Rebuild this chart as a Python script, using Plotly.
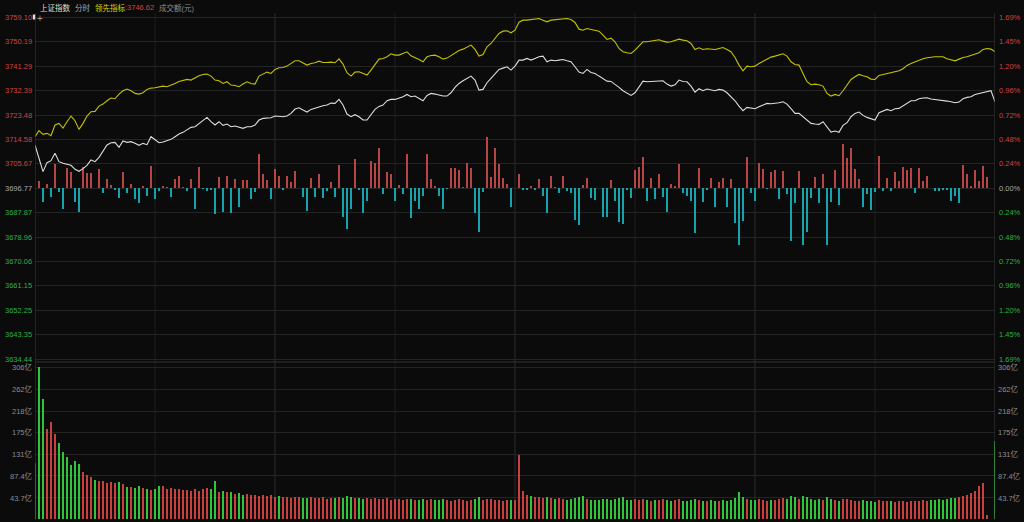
import plotly.graph_objects as go

prev_close = 3696.77
minutes = list(range(241))

price_ticks = [3759.10, 3750.19, 3741.29, 3732.39, 3723.48, 3714.58, 3705.67,
               3696.77, 3687.87, 3678.96, 3670.06, 3661.15, 3652.25, 3643.35, 3634.44]
pct_labels = ["1.69%", "1.45%", "1.20%", "0.96%", "0.72%", "0.48%", "0.24%", "0.00%",
              "0.24%", "0.48%", "0.72%", "0.96%", "1.20%", "1.45%", "1.69%"]
vol_ticks = [306, 262, 218, 175, 131, 87.4, 43.7]
vol_labels = ["306亿", "262亿", "218亿", "175亿", "131亿", "87.4亿", "43.7亿"]

index_price = [
    3712.57, 3707.71, 3702.85, 3706.13, 3706.85, 3709.53, 3706.49, 3705.88, 3705.52, 3705.15,
    3703.70, 3702.97, 3703.94, 3705.15, 3707.10, 3706.49, 3708.07, 3710.14, 3712.57, 3713.42,
    3713.54, 3711.71, 3714.02, 3713.54, 3713.78, 3713.17, 3712.44, 3713.17, 3712.69, 3715.60,
    3714.39, 3713.42, 3713.66, 3714.14, 3714.63, 3715.60, 3716.57, 3717.18, 3718.03, 3719.00,
    3719.25, 3720.46, 3721.68, 3722.65, 3721.07, 3719.86, 3721.07, 3719.73, 3720.22, 3719.25,
    3719.49, 3719.00, 3718.64, 3719.25, 3719.25, 3719.86, 3721.68, 3722.29, 3722.29, 3722.53,
    3723.14, 3722.89, 3722.89, 3723.14, 3724.11, 3725.69, 3726.17, 3725.32, 3724.59, 3725.57,
    3726.05, 3726.66, 3726.90, 3727.15, 3727.87, 3727.75, 3729.21, 3727.15, 3723.86, 3722.89,
    3723.62, 3722.89, 3721.68, 3721.68, 3723.50, 3725.57, 3726.66, 3727.15, 3728.72, 3729.21,
    3729.21, 3729.70, 3730.18, 3731.03, 3730.18, 3730.43, 3729.58, 3728.72, 3730.67, 3731.40,
    3731.15, 3730.79, 3730.43, 3730.43, 3731.64, 3733.58, 3735.04, 3736.01, 3736.87, 3737.72,
    3736.26, 3732.61, 3732.86, 3735.29, 3736.87, 3738.69, 3740.15, 3740.63, 3741.12, 3739.90,
    3741.36, 3743.55, 3743.55, 3744.16, 3743.55, 3744.16, 3744.76, 3745.01, 3742.94, 3743.55,
    3743.30, 3743.55, 3743.79, 3743.30, 3742.94, 3741.12, 3739.17, 3738.69, 3740.15, 3739.05,
    3738.69, 3737.72, 3736.74, 3735.89, 3735.77, 3734.80, 3733.58, 3732.37, 3731.40, 3730.67,
    3731.64, 3733.83, 3735.89, 3735.65, 3735.77, 3735.65, 3735.89, 3736.01, 3734.80, 3734.07,
    3734.56, 3736.26, 3735.77, 3735.65, 3734.07, 3731.88, 3733.10, 3732.37, 3732.98, 3732.61,
    3732.37, 3732.86, 3732.61, 3731.64, 3730.18, 3728.72, 3726.78, 3725.08, 3726.29, 3725.93,
    3725.81, 3726.54, 3727.27, 3727.75, 3727.63, 3727.75, 3728.00, 3728.36, 3727.51, 3725.81,
    3724.11, 3724.11, 3722.89, 3721.68, 3720.46, 3720.22, 3720.10, 3721.07, 3719.00, 3717.30,
    3717.67, 3717.18, 3719.73, 3720.71, 3722.89, 3724.11, 3724.59, 3723.38, 3722.65, 3722.16,
    3721.68, 3724.35, 3725.08, 3725.57, 3725.08, 3725.81, 3725.93, 3726.78, 3727.75, 3728.72,
    3728.72, 3729.45, 3729.70, 3729.82, 3729.33, 3729.21, 3728.97, 3728.72, 3728.60, 3728.36,
    3728.00, 3728.24, 3729.45, 3729.94, 3730.18, 3731.03, 3731.40, 3731.88, 3732.25, 3732.37,
    3728.36,
]

leading_index = [
    3715.60, 3717.79, 3716.45, 3716.82, 3715.97, 3719.86, 3720.46, 3718.76, 3721.07, 3723.14,
    3721.43, 3718.28, 3720.46, 3723.14, 3724.72, 3724.84, 3726.78, 3727.51, 3728.72, 3729.70,
    3729.45, 3731.15, 3732.37, 3732.98, 3732.37, 3731.40, 3731.15, 3731.64, 3732.86, 3733.34,
    3733.46, 3733.83, 3734.07, 3733.83, 3734.31, 3735.04, 3735.77, 3736.26, 3736.50, 3736.26,
    3737.11, 3737.84, 3738.32, 3738.44, 3737.72, 3736.26, 3736.01, 3735.04, 3735.65, 3734.44,
    3734.31, 3733.83, 3734.80, 3735.65, 3735.04, 3734.80, 3737.72, 3738.44, 3739.17, 3738.69,
    3740.15, 3740.75, 3740.87, 3741.36, 3742.33, 3743.30, 3743.30, 3742.58, 3741.73, 3742.33,
    3742.58, 3743.18, 3742.70, 3742.70, 3742.82, 3742.58, 3744.03, 3742.09, 3738.93, 3737.72,
    3739.17, 3739.30, 3738.69, 3738.08, 3739.90, 3742.09, 3743.91, 3744.16, 3744.76, 3745.86,
    3745.37, 3745.37, 3745.98, 3746.59, 3745.13, 3744.52, 3743.79, 3742.94, 3744.76, 3745.25,
    3745.37, 3744.76, 3743.91, 3744.28, 3745.25, 3746.34, 3747.07, 3747.56, 3748.41, 3749.02,
    3747.44, 3745.01, 3745.61, 3748.41, 3749.62, 3751.45, 3753.27, 3754.12, 3754.24, 3753.51,
    3754.48, 3757.40, 3758.13, 3758.13, 3758.25, 3758.49, 3758.74, 3758.13, 3757.52, 3758.13,
    3758.25, 3758.37, 3758.74, 3758.74, 3758.37, 3757.28, 3754.85, 3754.48, 3755.09, 3754.73,
    3754.36, 3754.12, 3752.66, 3751.08, 3751.57, 3750.23, 3747.80, 3746.59, 3746.22, 3745.98,
    3747.19, 3748.65, 3750.23, 3750.23, 3750.47, 3750.59, 3750.96, 3750.47, 3750.11, 3750.23,
    3750.84, 3751.20, 3750.84, 3750.59, 3749.62, 3747.44, 3748.04, 3747.44, 3747.68, 3747.44,
    3747.44, 3747.80, 3748.16, 3747.44, 3746.59, 3744.52, 3741.73, 3739.66, 3741.36, 3741.12,
    3741.36, 3742.33, 3743.18, 3743.79, 3744.64, 3745.01, 3745.37, 3745.86, 3745.01, 3742.94,
    3741.97, 3741.73, 3738.69, 3735.65, 3734.56, 3734.80, 3734.56, 3734.07, 3731.40, 3730.43,
    3731.03, 3730.55, 3732.37, 3734.31, 3736.50, 3737.47, 3738.32, 3737.84, 3737.47, 3736.62,
    3736.50, 3737.96, 3738.32, 3738.44, 3739.05, 3739.42, 3739.66, 3740.39, 3741.60, 3742.33,
    3742.94, 3743.55, 3744.03, 3744.40, 3744.64, 3744.76, 3744.76, 3744.76, 3744.03, 3743.67,
    3743.30, 3743.91, 3744.52, 3744.76, 3745.25, 3745.61, 3746.22, 3747.44, 3747.80, 3747.56,
    3746.62,
]

strength = [
    0, 2.8, -4.9, 1.6, -3.3, 8.9, -1.2, -7.7, 7.3, 6.1,
    -5.1, -8.5, 7.9, 5.5, 5.7, 0, 6.9, -1.8, 3.3, 1.3,
    -0.6, -3.6, 6.1, -1.6, 1.6, -4.0, -5.5, 0.9, -2.7, 8.3,
    -4.0, -0.9, 0.9, 0.6, -3.3, 3.3, 4.5, 0.6, -0.9, 3.3,
    -7.5, 7.7, -0.4, -0.9, -0.6, -9.4, 4.0, -8.7, 4.6, -8.9,
    3.4, -7.0, 3.0, 3.0, -4.0, -1.2, 12.5, 5.2, 3.0, -4.0,
    6.9, 4.6, -0.6, 4.5, 2.4, 6.3, 0, -3.3, -8.1, 3.6,
    -3.0, 5.1, -3.6, -1.0, 2.2, -3.0, 8.5, -10.6, -14.9, -7.7,
    10.6, -0.6, -8.9, -4.5, 10.0, 9.1, 14.6, -2.2, 6.1, 5.1,
    -4.6, 1.2, -2.2, 12.5, -10.9, -4.6, -7.7, -2.8, 12.5, 3.3,
    0.9, -2.7, -7.7, -0.2, 7.3, 7.5, 6.7, 0.4, 9.1, 7.3,
    -8.9, -15.8, -1.2, 18.8, 4.3, 14.6, 8.9, 3.9, 1.6, -6.7,
    0, 5.1, -0.6, -0.6, 0.9, -0.6, 3.4, -2.7, -8.9, 4.6,
    0.4, -1.8, 4.5, -1.0, -1.6, -11.5, -13.4, 1.2, 3.9, -3.6,
    -4.3, 0, -10.6, -10.6, 3.0, -4.6, -12.4, -13.1, -0.6, -3.6,
    6.7, 7.9, 11.5, -4.5, 3.6, -4.0, 5.1, -3.0, -8.5, 1.5,
    0.9, 8.7, -1.8, -2.8, -4.6, -16.4, 7.5, -4.9, -0.6, 3.9,
    -6.9, 2.2, 3.6, -6.7, 3.3, -12.8, -20.7, -11.8, 11.3, -1.6,
    -4.6, 9.4, 6.9, -0.2, 6.1, 6.7, -4.0, 6.3, -2.2, -19.1,
    -5.2, 6.3, -20.7, -15.8, -3.4, 4.0, -5.2, 5.1, -20.7, -4.9,
    6.7, -6.1, 16.2, 11.2, 14.6, 7.0, 3.4, -7.0, -2.2, -7.9,
    -1.2, 11.8, -0.9, 3.6, -1.0, 6.1, 2.8, 7.7, 6.7, 7.5,
    -1.8, 7.5, 2.7, 4.6, 0.2, -0.9, -0.9, -0.6, -0.6, -4.5,
    -2.7, -5.2, 8.5, 5.1, 0.9, 6.7, 2.7, 8.1, 4.3, 0,
    0,
]

volume = [
    113, 306, 242, 182, 195, 172, 153, 136, 125, 109,
    117, 111, 96, 89, 86, 79, 77, 77, 74, 76,
    73, 76, 71, 66, 66, 64, 68, 64, 62, 59,
    62, 67, 67, 61, 64, 61, 61, 59, 59, 57,
    62, 58, 61, 64, 62, 77, 56, 57, 56, 55,
    52, 54, 50, 52, 49, 50, 48, 50, 47, 49,
    46, 47, 45, 46, 44, 45, 46, 44, 43, 45,
    44, 43, 45, 42, 44, 43, 45, 44, 48, 46,
    44, 43, 42, 44, 41, 43, 42, 41, 43, 40,
    42, 41, 40, 42, 41, 40, 39, 41, 40, 42,
    40, 39, 41, 40, 38, 40, 41, 39, 38, 40,
    42, 45, 40, 41, 42, 40, 39, 38, 40, 39,
    40, 130, 58, 50, 48, 46, 45, 44, 46, 43,
    42, 44, 41, 40, 42, 43, 45, 47, 42, 40,
    39, 40, 42, 41, 39, 41, 44, 45, 40, 39,
    41, 40, 42, 39, 38, 40, 39, 41, 40, 38,
    39, 41, 38, 37, 39, 42, 40, 38, 37, 39,
    38, 37, 39, 38, 40, 44, 55, 46, 42, 40,
    39, 41, 40, 38, 39, 40, 42, 43, 41, 47,
    45, 42, 48, 46, 41, 40, 42, 39, 45, 41,
    40, 38, 42, 41, 40, 38, 37, 39, 38, 37,
    36, 39, 37, 38, 37, 36, 38, 37, 36, 38,
    37, 38, 39, 38, 40, 39, 41, 40, 42, 43,
    44, 46, 48, 50, 53, 58, 68, 74, 8, 0,
    158,
]

# ---------------- styling ----------------
BG = "#0b0b0b"
GRID = "#242424"
RED = "#cf4343"
GREEN = "#2bb04a"
GRAY = "#a8a8a8"
FONT = "Arial, 'Liberation Sans', 'Noto Sans CJK SC', sans-serif"

W, H = 1024, 522
ML, MR, MT, MB = 35, 29, 13, 2
plot_h = H - MT - MB


def py(pix):
    return (H - MB - pix) / plot_h


top_dom = [py(362), 1.0]
bot_dom = [0.0, py(364)]

ppx = (price_ticks[0] - price_ticks[7]) / (188.3 - 17.5)
y_top = prev_close + (188.3 - MT) * ppx
y_bot = prev_close - (362 - 188.3) * ppx
vpx = 43.7 / 21.73
v_top = (519.4 - 364) * vpx
v_bot = (519.4 - 520) * vpx

fig = go.Figure()

s_colors = ["#b64545" if v >= 0 else "#17a3ab" for v in strength]
fig.add_trace(go.Bar(x=minutes, y=strength, base=prev_close, width=0.36,
                     marker=dict(color=s_colors, line=dict(width=0)),
                     xaxis="x", yaxis="y", hoverinfo="skip", showlegend=False))

fig.add_trace(go.Scatter(x=minutes, y=leading_index, mode="lines",
                         line=dict(color="#c4c200", width=1.1),
                         xaxis="x", yaxis="y", hoverinfo="skip", showlegend=False))
fig.add_trace(go.Scatter(x=minutes, y=index_price, mode="lines",
                         line=dict(color="#dcdcdc", width=1.1),
                         xaxis="x", yaxis="y", hoverinfo="skip", showlegend=False))

v_colors = []
for i, p in enumerate(index_price):
    ref = index_price[i - 1] if i > 0 else prev_close
    v_colors.append("#c94040" if p >= ref else "#2fc43a")
fig.add_trace(go.Bar(x=minutes, y=volume, width=0.4,
                     marker=dict(color=v_colors, line=dict(width=0)),
                     xaxis="x2", yaxis="y2", hoverinfo="skip", showlegend=False))

axis_common = dict(showticklabels=False, zeroline=False, showline=False, ticks="")
fig.update_layout(
    width=W, height=H,
    margin=dict(l=ML, r=MR, t=MT, b=MB),
    paper_bgcolor=BG, plot_bgcolor=BG,
    font=dict(family=FONT, size=8, color=GRAY),
    bargap=0,
    hovermode=False,
    xaxis=dict(domain=[0, 1], range=[0, 240], anchor="y", showgrid=False, **axis_common),
    xaxis2=dict(domain=[0, 1], range=[0, 240], anchor="y2", showgrid=False, **axis_common),
    yaxis=dict(domain=top_dom, range=[y_bot, y_top], tickvals=price_ticks,
               showgrid=True, gridcolor=GRID, gridwidth=1, **axis_common),
    yaxis2=dict(domain=bot_dom, range=[v_bot, v_top], tickvals=vol_ticks,
                showgrid=True, gridcolor=GRID, gridwidth=1, **axis_common),
)

shapes = []
for m in [30, 60, 90, 120, 150, 180, 210]:
    col = "#2c2c2c" if m in (60, 120, 180) else "#1c1c1c"
    shapes.append(dict(type="line", xref="x", yref="paper", x0=m, x1=m, y0=0, y1=1,
                       line=dict(color=col, width=1), layer="below"))
for xv in [0, 240]:
    shapes.append(dict(type="line", xref="x", yref="paper", x0=xv, x1=xv, y0=0, y1=1,
                       line=dict(color="#3a3a3a", width=1)))
shapes.append(dict(type="line", xref="paper", yref="paper", x0=0, x1=1,
                   y0=top_dom[0], y1=top_dom[0], line=dict(color="#333333", width=1)))
shapes.append(dict(type="rect", xref="paper", yref="paper",
                   x0=-2.2 / 960, x1=0.2 / 960, y0=py(19.5), y1=py(14.5),
                   fillcolor="#dddddd", line=dict(width=0)))
fig.update_layout(shapes=shapes)

ann = []
for i, (v, lab) in enumerate(zip(price_ticks, pct_labels)):
    col = RED if i < 7 else (GRAY if i == 7 else GREEN)
    ann.append(dict(x=0, xref="paper", y=v, yref="y", text=f"{v:.2f}", showarrow=False,
                    xanchor="right", yanchor="middle", xshift=-1,
                    font=dict(color=col, size=7.5, family=FONT)))
    ann.append(dict(x=1, xref="paper", y=v, yref="y", text=lab, showarrow=False,
                    xanchor="left", yanchor="middle", xshift=2,
                    font=dict(color=col, size=7.5, family=FONT)))
for v, lab in zip(vol_ticks, vol_labels):
    ann.append(dict(x=0, xref="paper", y=v, yref="y2", text=lab, showarrow=False,
                    xanchor="right", yanchor="middle", xshift=0,
                    font=dict(color="#8c8c8c", size=7.5, family=FONT)))
    ann.append(dict(x=1, xref="paper", y=v, yref="y2", text=lab, showarrow=False,
                    xanchor="left", yanchor="middle", xshift=1,
                    font=dict(color="#8c8c8c", size=7.5, family=FONT)))

header = [
    (38, "上证指数", "#e6dfc0"),
    (73, "分时", "#a8a8a8"),
    (93, "领先指标", "#d6d400"),
    (123, ":3746.62", "#d24545"),
    (157, "成交额(元)", "#8c8c8c"),
]
for xp, txt, col in header:
    ann.append(dict(x=(xp - ML) / 960, xref="paper", y=py(8), yref="paper", text=txt,
                    showarrow=False, xanchor="left", yanchor="middle",
                    font=dict(color=col, size=7.5, family=FONT)))
ann.append(dict(x=(40 - ML) / 960, xref="paper", y=py(19), yref="paper", text="+",
                showarrow=False, xanchor="center", yanchor="middle",
                font=dict(color="#9a9a9a", size=10, family=FONT)))
fig.update_layout(annotations=ann)

fig.write_html("out.html",
               config={"displayModeBar": False, "staticPlot": True},
               post_script="document.body.style.margin='0';document.body.style.padding='0';"
                           "document.body.style.overflow='hidden';"
                           "document.body.style.background='#0b0b0b';")
